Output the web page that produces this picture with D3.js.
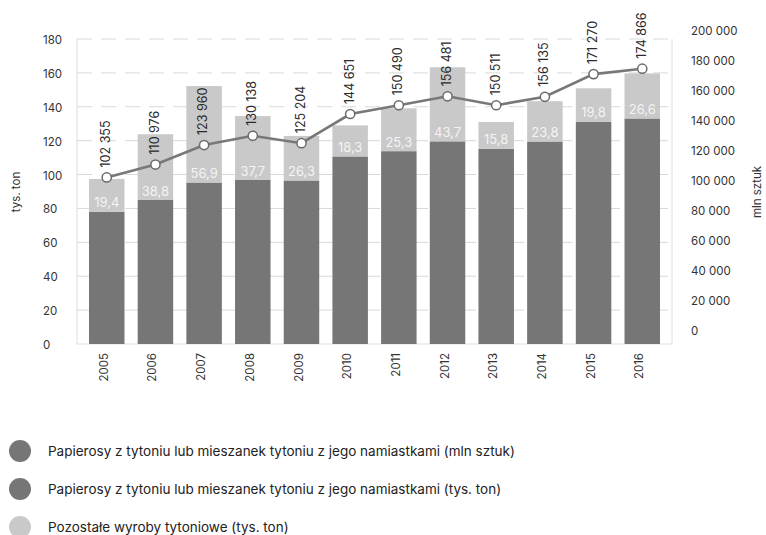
<!DOCTYPE html>
<html><head><meta charset="utf-8">
<script src="https://cdn.jsdelivr.net/npm/d3@7"></script>
<style>
body{margin:0;background:#fff;}
svg{display:block;font-family:"Inter","Open Sans",sans-serif;}
</style></head><body>
<svg id="c" width="766" height="535"></svg>
<script>
const years = ["2005","2006","2007","2008","2009","2010","2011","2012","2013","2014","2015","2016"];
const cigTons = [78.0, 85.0, 95.3, 96.8, 96.5, 110.7, 113.8, 119.6, 115.2, 119.5, 131.1, 133.1];
const otherTons = [19.4, 38.8, 56.9, 37.7, 26.3, 18.3, 25.3, 43.7, 15.8, 23.8, 19.8, 26.6];
const cigPieces = [102355, 110976, 123960, 130138, 125204, 144651, 150490, 156481, 150511, 156135, 171270, 174866];
const leftTicks = [0,20,40,60,80,100,120,140,160,180];
const rightTicks = [0,20000,40000,60000,80000,100000,120000,140000,160000,180000,200000];
const legendLabels = [
  "Papierosy z tytoniu lub mieszanek tytoniu z jego namiastkami (mln sztuk)",
  "Papierosy z tytoniu lub mieszanek tytoniu z jego namiastkami (tys. ton)",
  "Pozostałe wyroby tytoniowe (tys. ton)"
];

const DARK = "#767676", LIGHT = "#c9c9c9", LINE = "#787878";
const svg = d3.select("#c");
const fmtNum = v => d3.format(",")(v).replace(/,/g, " ");
const fmtDec = v => d3.format(".1f")(v).replace(".", ",");

const x = d3.scaleBand().domain(years).range([77, 672]).paddingInner(0.271).paddingOuter(0.2465);
const yL = d3.scaleLinear().domain([0, 180]).range([344, 39]);
const yR = d3.scaleLinear().domain([0, 200000]).range([331, 31]);

// gridlines
svg.append("g").selectAll("line").data(leftTicks.filter(d => d > 0)).join("line")
  .attr("x1", 77).attr("x2", 672).attr("y1", d => yL(d)).attr("y2", d => yL(d))
  .attr("stroke", "#d9d9d9").attr("stroke-width", 1).attr("stroke-dasharray", "15,9");

// frame
svg.append("path").attr("d", `M77,${yL(180)}V${yL(0)}H672V${yL(180)}`)
  .attr("fill", "none").attr("stroke", "#dedede").attr("stroke-width", 1);

// bars
const bars = svg.append("g");
bars.selectAll("rect.d").data(years).join("rect")
  .attr("x", d => x(d)).attr("width", x.bandwidth())
  .attr("y", (d, i) => yL(cigTons[i])).attr("height", (d, i) => yL(0) - yL(cigTons[i]))
  .attr("fill", DARK);
bars.selectAll("rect.l").data(years).join("rect")
  .attr("x", d => x(d)).attr("width", x.bandwidth())
  .attr("y", (d, i) => yL(cigTons[i] + otherTons[i])).attr("height", (d, i) => yL(cigTons[i]) - yL(cigTons[i] + otherTons[i]))
  .attr("fill", LIGHT);
bars.selectAll("text").data(years).join("text")
  .attr("x", d => x(d) + x.bandwidth() / 2).attr("y", (d, i) => yL(cigTons[i]) - 9)
  .attr("dy", "0.35em").attr("text-anchor", "middle")
  .attr("fill", "#f4f4f4").attr("font-size", 13)
  .text((d, i) => fmtDec(otherTons[i]));

// line
const line = d3.line().x((d, i) => x(years[i]) + x.bandwidth() / 2).y(d => yR(d));
svg.append("path").datum(cigPieces).attr("d", line)
  .attr("fill", "none").attr("stroke", LINE).attr("stroke-width", 2.6);
svg.append("g").selectAll("circle").data(cigPieces).join("circle")
  .attr("cx", (d, i) => x(years[i]) + x.bandwidth() / 2).attr("cy", d => yR(d)).attr("r", 4.6)
  .attr("fill", "#fff").attr("stroke", "#6a6a6a").attr("stroke-width", 1.5);
svg.append("g").selectAll("text").data(cigPieces).join("text")
  .attr("transform", (d, i) => `translate(${x(years[i]) + x.bandwidth() / 2 - 1},${yR(d) - 10}) rotate(-90)`)
  .attr("dy", "0.35em").attr("text-anchor", "start")
  .attr("fill", "#2a2a2a").attr("font-size", 12.5)
  .text(d => fmtNum(d));

// left axis labels
svg.append("g").selectAll("text").data(leftTicks).join("text")
  .attr("x", 43).attr("y", d => yL(d) + 1).attr("dy", "0.35em")
  .attr("fill", "#333").attr("font-size", 11.5).text(d => d);
// right axis labels
svg.append("g").selectAll("text").data(rightTicks).join("text")
  .attr("x", 691).attr("y", d => yR(d)).attr("dy", "0.35em")
  .attr("fill", "#333").attr("font-size", 11.5).text(d => fmtNum(d));

// axis titles
svg.append("text").attr("transform", "translate(15.5,192) rotate(-90)")
  .attr("dy", "0.35em").attr("text-anchor", "middle").attr("fill", "#333").attr("font-size", 11.5).text("tys. ton");
svg.append("text").attr("transform", "translate(757,192) rotate(-90)")
  .attr("dy", "0.35em").attr("text-anchor", "middle").attr("fill", "#333").attr("font-size", 11.5).text("mln sztuk");

// x labels
svg.append("g").selectAll("text").data(years).join("text")
  .attr("transform", d => `translate(${x(d) + x.bandwidth() / 2 - 3},353) rotate(-90)`)
  .attr("dy", "0.35em").attr("text-anchor", "end")
  .attr("fill", "#333").attr("font-size", 11.5).text(d => d);

// legend
const legColors = [DARK, DARK, LIGHT];
const lg = svg.append("g").selectAll("g").data(legendLabels).join("g")
  .attr("transform", (d, i) => `translate(0,${451 + i * 38})`);
lg.append("circle").attr("cx", 20).attr("cy", 0).attr("r", 11).attr("fill", (d, i) => legColors[i]);
lg.append("text").attr("x", 48).attr("dy", "0.35em").attr("fill", "#222").attr("font-size", 13.5).text(d => d);
</script></body></html>
